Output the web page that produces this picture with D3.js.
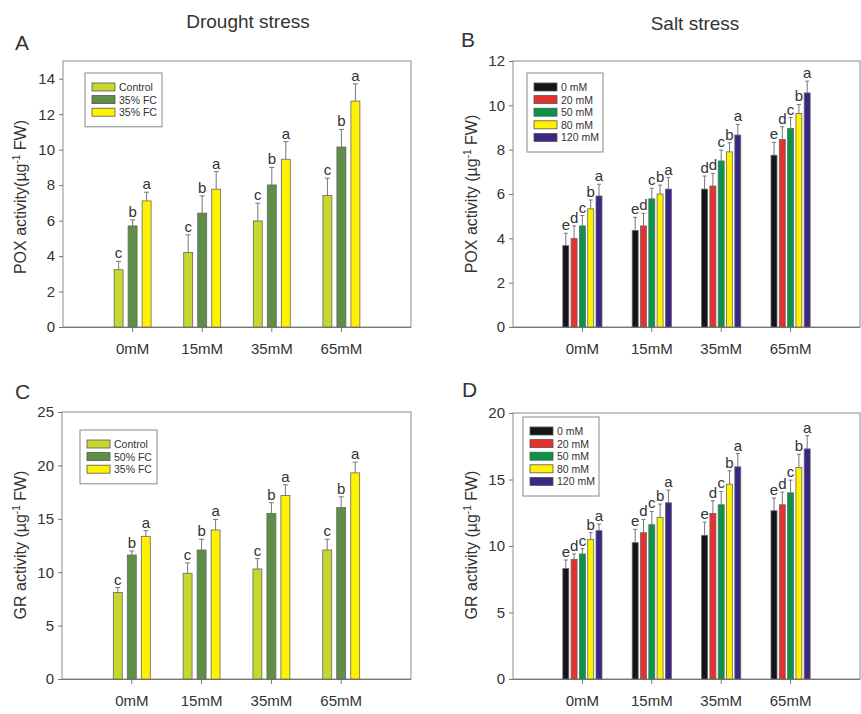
<!DOCTYPE html>
<html>
<head>
<meta charset="utf-8">
<script src="https://cdn.jsdelivr.net/npm/d3@7"></script>
<style>
  body { margin: 0; background: #fff; }
  text { font-family: "Liberation Sans", Arial, sans-serif; fill: #333; }
</style>
</head>
<body>
<div id="chart-area"></div>
<script>
// Categories
const doses = ["0mM", "15mM", "35mM", "65mM"];
const droughtA = ["Control", "35% FC", "35% FC"];
const droughtC = ["Control", "50% FC", "35% FC"];
const saltLevels = ["0 mM", "20 mM", "50 mM", "80 mM", "120 mM"];

// A - POX, drought (one row per series, across doses)
const poxDrought = [[3.23, 4.2, 5.98, 7.41], [5.7, 6.42, 8.01, 10.15], [7.11, 7.77, 9.46, 12.74]];
const poxDroughtErr = [[0.47, 1.0, 1.0, 0.98], [0.34, 0.97, 0.99, 0.99], [0.49, 0.99, 0.99, 0.97]];
const poxDroughtSig = [["c", "c", "c", "c"], ["b", "b", "b", "b"], ["a", "a", "a", "a"]];

// B - POX, salt
const poxSalt = [[3.67, 4.35, 6.22, 7.75], [3.99, 4.56, 6.36, 8.46], [4.56, 5.78, 7.49, 8.96], [5.33, 6.0, 7.9, 9.63], [5.91, 6.22, 8.66, 10.56]];
const poxSaltErr = [[0.56, 0.6, 0.59, 0.58], [0.57, 0.57, 0.57, 0.57], [0.47, 0.48, 0.49, 0.49], [0.4, 0.4, 0.41, 0.41], [0.53, 0.52, 0.48, 0.53]];
const poxSaltSig = [["e", "e", "d", "e"], ["d", "d", "d", "d"], ["c", "c", "c", "c"], ["b", "b", "b", "b"], ["a", "a", "a", "a"]];

// C - GR, drought
const grDrought = [[8.09, 9.9, 10.3, 12.08], [11.61, 12.08, 15.5, 16.06], [13.36, 13.95, 17.19, 19.3]];
const grDroughtErr = [[0.47, 0.97, 0.97, 1.0], [0.38, 1.0, 1.0, 1.0], [0.53, 0.99, 0.99, 1.0]];
const grDroughtSig = [["c", "c", "c", "c"], ["b", "b", "b", "b"], ["a", "a", "a", "a"]];

// D - GR, salt
const grSalt = [[8.3, 10.25, 10.8, 12.65], [9.0, 11.0, 12.45, 13.1], [9.4, 11.6, 13.1, 14.0], [10.5, 12.15, 14.65, 15.9], [11.15, 13.25, 15.95, 17.3]];
const grSaltErr = [[0.65, 1.0, 1.0, 0.95], [0.4, 1.0, 0.95, 0.95], [0.4, 1.0, 1.0, 0.95], [0.5, 1.0, 1.0, 1.0], [0.5, 0.95, 1.0, 1.0]];
const grSaltSig = [["e", "e", "e", "e"], ["d", "d", "d", "d"], ["c", "c", "c", "c"], ["b", "b", "b", "b"], ["a", "a", "a", "a"]];

const droughtColors = ["#c8d72f", "#5f8f47", "#fff200"];
const saltColors = ["#151515", "#e8312e", "#0a9447", "#fff200", "#3b2585"];

const svg = d3.select("#chart-area").append("svg")
  .attr("width", 861)
  .attr("height", 714);

svg.append("text").attr("x", 248).attr("y", 28)
  .attr("text-anchor", "middle").style("font-size", "19px").text("Drought stress");
svg.append("text").attr("x", 695).attr("y", 30)
  .attr("text-anchor", "middle").style("font-size", "19px").text("Salt stress");

function panel(cfg) {
  const x = d3.scaleBand()
    .domain(doses)
    .range([cfg.left + (cfg.right - cfg.left) / 10, cfg.right - (cfg.right - cfg.left) / 10]);
  const y = d3.scaleLinear().domain([0, cfg.yMax]).range([cfg.bottom, cfg.top]);
  const inner = d3.scaleBand()
    .domain(d3.range(cfg.series.length))
    .range([-cfg.groupW / 2, cfg.groupW / 2])
    .paddingInner(cfg.pad).paddingOuter(cfg.pad / 2);

  const g = svg.append("g");

  // frame
  g.append("rect")
    .attr("x", cfg.left).attr("y", cfg.top)
    .attr("width", cfg.right - cfg.left).attr("height", cfg.bottom - cfg.top)
    .attr("fill", "none").attr("stroke", "#8c8c8c");

  // y axis
  const yAxis = g.append("g")
    .attr("transform", "translate(" + cfg.left + ",0)")
    .call(d3.axisLeft(y).tickValues(d3.range(0, cfg.yMax + 0.01, cfg.step)).tickSize(4).tickSizeOuter(0).tickPadding(4));
  yAxis.select(".domain").remove();
  yAxis.selectAll("line").attr("stroke", "#777");
  yAxis.selectAll("text").style("font-size", "15px").attr("fill", "#333")
    .style("font-family", "'Liberation Sans', Arial, sans-serif");

  // x axis
  const xAxis = g.append("g")
    .attr("transform", "translate(0," + cfg.bottom + ")")
    .call(d3.axisBottom(x).tickSize(5).tickSizeOuter(0).tickPadding(11));
  xAxis.select(".domain").attr("stroke", "#777")
    .attr("d", "M" + (cfg.left - 3) + ",0.5H" + cfg.right);
  xAxis.selectAll("line").attr("stroke", "#777");
  xAxis.selectAll("text").style("font-size", "15px").attr("fill", "#333")
    .style("font-family", "'Liberation Sans', Arial, sans-serif");

  // bars
  cfg.values.forEach((row, s) => {
    const sg = g.append("g");
    const items = row.map((v, i) => ({dose: doses[i], v: v, e: cfg.errors[s][i], sig: cfg.sig[s][i]}));
    const cx = d => x(d.dose) + x.bandwidth() / 2 + inner(s) + inner.bandwidth() / 2;

    sg.selectAll("line.err").data(items).join("line")
      .attr("class", "err")
      .attr("x1", cx).attr("x2", cx)
      .attr("y1", d => y(d.v)).attr("y2", d => y(d.v + d.e))
      .attr("stroke", "#777").attr("stroke-width", 1);
    sg.selectAll("line.cap").data(items).join("line")
      .attr("class", "cap")
      .attr("x1", d => cx(d) - cfg.cap).attr("x2", d => cx(d) + cfg.cap)
      .attr("y1", d => y(d.v + d.e)).attr("y2", d => y(d.v + d.e))
      .attr("stroke", "#777").attr("stroke-width", 1);

    sg.selectAll("rect").data(items).join("rect")
      .attr("x", d => cx(d) - inner.bandwidth() / 2)
      .attr("width", inner.bandwidth())
      .attr("y", d => y(d.v))
      .attr("height", d => y(0) - y(d.v))
      .attr("fill", cfg.colors[s])
      .attr("stroke", "#666").attr("stroke-width", 0.8);

    sg.selectAll("text").data(items).join("text")
      .attr("x", cx)
      .attr("y", d => y(d.v + d.e) - 3)
      .attr("text-anchor", "middle")
      .style("font-size", "15px")
      .text(d => d.sig);
  });

  // legend
  const lg = g.append("g").attr("transform", "translate(" + cfg.legend[0] + "," + cfg.legend[1] + ")");
  lg.append("rect")
    .attr("width", cfg.legend[2]).attr("height", cfg.series.length * 12.6 + 16)
    .attr("fill", "#fff").attr("stroke", "#888");
  cfg.series.forEach((name, s) => {
    lg.append("rect")
      .attr("x", 7).attr("y", 10 + s * 12.6)
      .attr("width", 23).attr("height", 8)
      .attr("fill", cfg.colors[s]).attr("stroke", "#555").attr("stroke-width", 0.8);
    lg.append("text")
      .attr("x", 34).attr("y", 18 + s * 12.6)
      .style("font-size", "10.5px").attr("fill", "#444")
      .text(name);
  });

  // panel letter
  svg.append("text").attr("x", cfg.letterPos[0]).attr("y", cfg.letterPos[1])
    .style("font-size", "21px").text(cfg.letter);

  // y label with superscript
  const yl = svg.append("text")
    .attr("transform", "translate(" + cfg.ylab[0] + "," + cfg.ylab[1] + ") rotate(-90)")
    .attr("text-anchor", "middle")
    .style("font-size", "16px");
  yl.append("tspan").text(cfg.yTitle);
  yl.append("tspan").attr("dy", -6).style("font-size", "10px").text("-1");
  yl.append("tspan").attr("dy", 6).text(" FW)");
}

panel({
  left: 63, right: 411, top: 61, bottom: 327, yMax: 15, step: 2,
  series: droughtA, colors: droughtColors,
  values: poxDrought, errors: poxDroughtErr, sig: poxDroughtSig,
  groupW: 42, pad: 0.36, cap: 2.5,
  legend: [85, 73, 77], letter: "A", letterPos: [15, 50],
  ylab: [26, 197], yTitle: "POX activity(\u00b5g"
});

panel({
  left: 513, right: 860, top: 61, bottom: 327, yMax: 12, step: 2,
  series: saltLevels, colors: saltColors,
  values: poxSalt, errors: poxSaltErr, sig: poxSaltSig,
  groupW: 41.5, pad: 0.28, cap: 2,
  legend: [527, 73, 76], letter: "B", letterPos: [461, 47],
  ylab: [477, 194], yTitle: "POX activity (\u00b5g"
});

panel({
  left: 62, right: 411, top: 412, bottom: 679, yMax: 25, step: 5,
  series: droughtC, colors: droughtColors,
  values: grDrought, errors: grDroughtErr, sig: grDroughtSig,
  groupW: 42, pad: 0.36, cap: 2.5,
  legend: [80, 430, 77], letter: "C", letterPos: [15, 399],
  ylab: [26, 545], yTitle: "GR activity (\u00b5g"
});

panel({
  left: 513, right: 860, top: 413, bottom: 679, yMax: 20, step: 5,
  series: saltLevels, colors: saltColors,
  values: grSalt, errors: grSaltErr, sig: grSaltSig,
  groupW: 41.5, pad: 0.28, cap: 2,
  legend: [523, 417, 76], letter: "D", letterPos: [462, 397],
  ylab: [477, 545], yTitle: "GR activity (\u00b5g"
});
</script>
</body>
</html>
